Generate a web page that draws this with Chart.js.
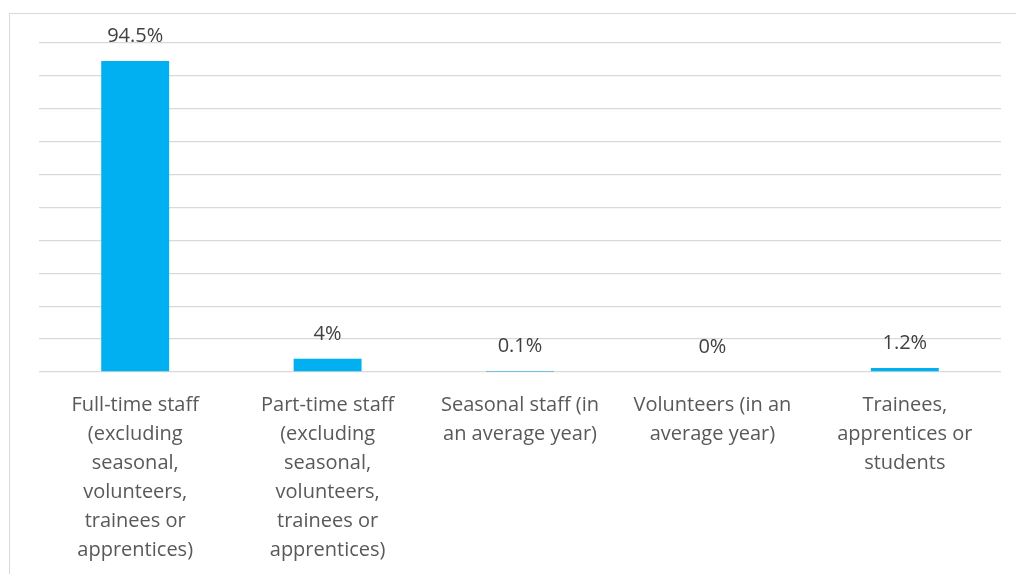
<!DOCTYPE html>
<html>
<head>
<meta charset="utf-8">
<script src="https://cdn.jsdelivr.net/npm/chart.js@4"></script>
<style>
  html, body { margin: 0; padding: 0; background: #fff; overflow: hidden; }
  #wrap { position: relative; width: 1016px; height: 574px; }
  #frame { position: absolute; left: 9px; top: 13px; width: 1020px; height: 600px; border: 1px solid #d9d9d9; box-sizing: border-box; pointer-events: none; }
</style>
</head>
<body>
<div id="wrap">
  <canvas id="myChart" width="1016" height="574"></canvas>
  <div id="frame"></div>
</div>
<script>
let categories = [
    ["Full-time staff", "(excluding", "seasonal,", "volunteers,", "trainees or", "apprentices)"],
    ["Part-time staff", "(excluding", "seasonal,", "volunteers,", "trainees or", "apprentices)"],
    ["Seasonal staff (in", "an average year)"],
    ["Volunteers (in an", "average year)"],
    ["Trainees,", "apprentices or", "students"]
];
let values = [94.5, 4, 0.1, 0, 1.2];
let valueLabels = ["94.5%", "4%", "0.1%", "0%", "1.2%"];

// draw value text above each bar
const barLabels = {
    id: "barLabels",
    afterDatasetsDraw(chart) {
        const ctx = chart.ctx;
        const meta = chart.getDatasetMeta(0);
        ctx.save();
        ctx.font = "20px 'Open Sans'";
        ctx.fillStyle = "#404040";
        ctx.textAlign = "center";
        ctx.textBaseline = "middle";
        meta.data.forEach((bar, i) => {
            ctx.fillText(valueLabels[i], bar.x, bar.y - 25);
        });
        ctx.restore();
    }
};

let chart = new Chart("myChart", {
    type: "bar",
    data: {
        labels: categories,
        datasets: [{
            data: values,
            backgroundColor: "#00b0f0",
            borderWidth: 0,
            barPercentage: 0.353,
            categoryPercentage: 1
        }]
    },
    options: {
        responsive: false,
        animation: false,
        layout: { padding: { left: 39, right: 15, top: 43, bottom: 0 } },
        plugins: { legend: { display: false }, tooltip: { enabled: false } },
        scales: {
            x: {
                grid: { display: false },
                border: { display: false },
                ticks: {
                    color: "#595959",
                    font: { family: "'Open Sans'", size: 20, lineHeight: 1.45 },
                    padding: 11,
                    maxRotation: 0,
                    autoSkip: false
                },
                afterFit: (s) => { s.height = 202; }
            },
            y: {
                min: 0,
                max: 100,
                ticks: { display: false, stepSize: 10 },
                border: { display: false },
                grid: { color: "#d9d9d9", lineWidth: 1.3, drawTicks: false },
                afterFit: (s) => { s.width = 0; }
            }
        }
    },
    plugins: [barLabels]
});
</script>
</body>
</html>
